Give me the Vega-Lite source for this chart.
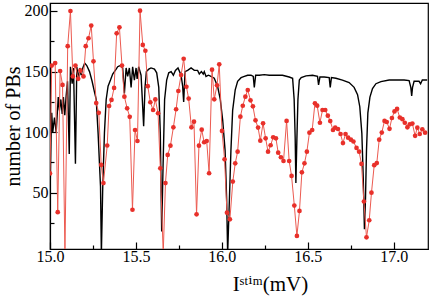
{
  "$schema": "https://vega.github.io/schema/vega-lite/v6.json",
  "width": 378,
  "height": 246,
  "autosize": "none",
  "padding": {"left": 50, "top": 3, "right": 3, "bottom": 47},
  "background": "white",
  "config": {
    "view": {"stroke": "black", "strokeWidth": 1.2},
    "axis": {
      "labelFont": "Liberation Serif",
      "titleFont": "Liberation Serif, DejaVu Serif",
      "labelColor": "black",
      "titleColor": "black",
      "labelFontSize": 16,
      "titleFontSize": 21,
      "titleFontWeight": "normal",
      "domainColor": "black",
      "domainWidth": 1.2,
      "tickColor": "black",
      "tickWidth": 1.2,
      "grid": false
    }
  },
  "datasets": {
    "black": [
      {"x":15.001,"y":55},{"x":15.006,"y":95},{"x":15.010,"y":116},{"x":15.016,"y":100},{"x":15.026,"y":112},{"x":15.036,"y":100},{"x":15.048,"y":129},{"x":15.055,"y":118},{"x":15.063,"y":127},{"x":15.071,"y":115},{"x":15.078,"y":129},{"x":15.086,"y":114},{"x":15.094,"y":130},{"x":15.102,"y":142},{"x":15.112,"y":82},{"x":15.119,"y":154},{"x":15.129,"y":140},{"x":15.137,"y":153},{"x":15.148,"y":74},{"x":15.156,"y":154},{"x":15.166,"y":143},{"x":15.173,"y":153},{"x":15.181,"y":147},{"x":15.191,"y":153},{"x":15.202,"y":157},{"x":15.214,"y":155},{"x":15.230,"y":150},{"x":15.245,"y":142},{"x":15.259,"y":133},{"x":15.269,"y":127},{"x":15.280,"y":99},{"x":15.294,"y":55},{"x":15.299,"y":0},{"x":15.307,"y":55},{"x":15.317,"y":100},{"x":15.327,"y":127},{"x":15.338,"y":138},{"x":15.352,"y":143},{"x":15.365,"y":148},{"x":15.375,"y":150},{"x":15.385,"y":152},{"x":15.394,"y":154},{"x":15.408,"y":155},{"x":15.423,"y":153},{"x":15.433,"y":132},{"x":15.443,"y":153},{"x":15.452,"y":146},{"x":15.462,"y":153},{"x":15.472,"y":137},{"x":15.481,"y":154},{"x":15.491,"y":143},{"x":15.501,"y":153},{"x":15.507,"y":144},{"x":15.516,"y":154},{"x":15.530,"y":147},{"x":15.538,"y":125},{"x":15.545,"y":105},{"x":15.553,"y":137},{"x":15.561,"y":150},{"x":15.575,"y":152},{"x":15.588,"y":153},{"x":15.608,"y":152},{"x":15.621,"y":149},{"x":15.633,"y":137},{"x":15.642,"y":99},{"x":15.650,"y":18},{"x":15.658,"y":72},{"x":15.667,"y":127},{"x":15.679,"y":143},{"x":15.691,"y":149},{"x":15.705,"y":150},{"x":15.718,"y":147},{"x":15.730,"y":151},{"x":15.745,"y":153},{"x":15.763,"y":147},{"x":15.772,"y":138},{"x":15.778,"y":125},{"x":15.786,"y":150},{"x":15.801,"y":151},{"x":15.821,"y":153},{"x":15.840,"y":151},{"x":15.859,"y":151},{"x":15.869,"y":148},{"x":15.881,"y":150},{"x":15.892,"y":148},{"x":15.898,"y":150},{"x":15.908,"y":146},{"x":15.922,"y":147},{"x":15.937,"y":146},{"x":15.956,"y":144.5},{"x":15.976,"y":137.5},{"x":15.991,"y":127},{"x":16.005,"y":110},{"x":16.019,"y":85},{"x":16.028,"y":45},{"x":16.034,"y":0},{"x":16.044,"y":44},{"x":16.053,"y":85},{"x":16.063,"y":118},{"x":16.078,"y":135},{"x":16.092,"y":142},{"x":16.112,"y":145},{"x":16.131,"y":146},{"x":16.150,"y":147},{"x":16.170,"y":147},{"x":16.183,"y":146},{"x":16.189,"y":137},{"x":16.197,"y":147},{"x":16.218,"y":147},{"x":16.247,"y":147.5},{"x":16.276,"y":147},{"x":16.315,"y":147},{"x":16.353,"y":147},{"x":16.392,"y":145.5},{"x":16.412,"y":144.5},{"x":16.421,"y":127},{"x":16.427,"y":95},{"x":16.431,"y":58},{"x":16.437,"y":95},{"x":16.443,"y":127},{"x":16.451,"y":143},{"x":16.462,"y":145},{"x":16.490,"y":146.5},{"x":16.528,"y":147},{"x":16.557,"y":146},{"x":16.563,"y":139},{"x":16.571,"y":145.5},{"x":16.596,"y":145.5},{"x":16.625,"y":145},{"x":16.631,"y":137},{"x":16.638,"y":145},{"x":16.664,"y":144.5},{"x":16.702,"y":143},{"x":16.741,"y":141},{"x":16.770,"y":137},{"x":16.790,"y":131},{"x":16.803,"y":121},{"x":16.815,"y":99},{"x":16.823,"y":63},{"x":16.830,"y":20},{"x":16.836,"y":44},{"x":16.842,"y":85},{"x":16.850,"y":116},{"x":16.862,"y":129},{"x":16.877,"y":136},{"x":16.897,"y":140},{"x":16.926,"y":141.7},{"x":16.974,"y":143},{"x":17.013,"y":143},{"x":17.061,"y":143},{"x":17.090,"y":142.5},{"x":17.100,"y":137},{"x":17.105,"y":130},{"x":17.110,"y":137},{"x":17.119,"y":142},{"x":17.148,"y":142},{"x":17.157,"y":140},{"x":17.167,"y":143},{"x":17.195,"y":143}
    ],
    "red": [
      {"x":15.000,"y":66},{"x":15.010,"y":155},{"x":15.030,"y":157},{"x":15.045,"y":34},{"x":15.059,"y":150.5},{"x":15.073,"y":139},{"x":15.087,"y":0},{"x":15.103,"y":171},{"x":15.119,"y":200},{"x":15.133,"y":146},{"x":15.148,"y":155},{"x":15.164,"y":144},{"x":15.177,"y":151},{"x":15.195,"y":146},{"x":15.208,"y":171},{"x":15.224,"y":177.5},{"x":15.240,"y":188},{"x":15.253,"y":158.5},{"x":15.269,"y":124},{"x":15.284,"y":116},{"x":15.298,"y":73},{"x":15.311,"y":58},{"x":15.333,"y":89},{"x":15.344,"y":121.6},{"x":15.358,"y":126.6},{"x":15.373,"y":136.5},{"x":15.388,"y":181.6},{"x":15.404,"y":186.5},{"x":15.419,"y":155},{"x":15.433,"y":129.3},{"x":15.449,"y":119.7},{"x":15.464,"y":112.7},{"x":15.480,"y":36},{"x":15.495,"y":101.8},{"x":15.509,"y":92.7},{"x":15.524,"y":200.3},{"x":15.540,"y":172},{"x":15.555,"y":167.2},{"x":15.569,"y":138},{"x":15.584,"y":124.7},{"x":15.600,"y":118.3},{"x":15.613,"y":127},{"x":15.629,"y":115.6},{"x":15.642,"y":70.2},{"x":15.659,"y":0},{"x":15.672,"y":58},{"x":15.685,"y":81.2},{"x":15.701,"y":88.9},{"x":15.718,"y":104},{"x":15.734,"y":118.9},{"x":15.747,"y":134},{"x":15.763,"y":147.2},{"x":15.778,"y":160.6},{"x":15.794,"y":137.5},{"x":15.807,"y":127.7},{"x":15.823,"y":104},{"x":15.838,"y":108.7},{"x":15.853,"y":32.2},{"x":15.867,"y":88.9},{"x":15.883,"y":102.1},{"x":15.897,"y":91.7},{"x":15.912,"y":92.7},{"x":15.926,"y":66.1},{"x":15.943,"y":151.6},{"x":15.956,"y":127.1},{"x":15.972,"y":138.7},{"x":15.985,"y":156},{"x":16.001,"y":101},{"x":16.016,"y":77.6},{"x":16.030,"y":33.6},{"x":16.047,"y":28.1},{"x":16.064,"y":59.2},{"x":16.078,"y":74.3},{"x":16.092,"y":83.9},{"x":16.108,"y":112.8},{"x":16.122,"y":121.8},{"x":16.137,"y":129.3},{"x":16.151,"y":134.8},{"x":16.167,"y":126.3},{"x":16.181,"y":121.3},{"x":16.196,"y":109.8},{"x":16.211,"y":103.8},{"x":16.224,"y":93},{"x":16.240,"y":107.3},{"x":16.255,"y":94.9},{"x":16.269,"y":83.9},{"x":16.284,"y":89.2},{"x":16.299,"y":95.8},{"x":16.315,"y":94.9},{"x":16.328,"y":83.1},{"x":16.344,"y":79.3},{"x":16.359,"y":76.2},{"x":16.377,"y":109.3},{"x":16.392,"y":76.2},{"x":16.406,"y":63.9},{"x":16.422,"y":39.4},{"x":16.437,"y":14.4},{"x":16.452,"y":35},{"x":16.466,"y":66.9},{"x":16.481,"y":74.3},{"x":16.495,"y":83.9},{"x":16.510,"y":99.6},{"x":16.526,"y":101.8},{"x":16.542,"y":123.8},{"x":16.555,"y":121.9},{"x":16.571,"y":107.8},{"x":16.586,"y":118.3},{"x":16.602,"y":118.3},{"x":16.617,"y":113.6},{"x":16.631,"y":109.2},{"x":16.647,"y":101.8},{"x":16.660,"y":103.7},{"x":16.676,"y":102.6},{"x":16.691,"y":98.5},{"x":16.705,"y":91},{"x":16.720,"y":98.5},{"x":16.735,"y":95.5},{"x":16.751,"y":93.8},{"x":16.766,"y":92.3},{"x":16.784,"y":87},{"x":16.799,"y":83.9},{"x":16.813,"y":73.8},{"x":16.827,"y":42.8},{"x":16.842,"y":13.2},{"x":16.858,"y":27.3},{"x":16.871,"y":50.1},{"x":16.887,"y":72.8},{"x":16.902,"y":74.5},{"x":16.916,"y":93.8},{"x":16.931,"y":99.7},{"x":16.947,"y":109.3},{"x":16.960,"y":108.4},{"x":16.976,"y":102.8},{"x":16.990,"y":111.7},{"x":17.005,"y":117.1},{"x":17.020,"y":119.2},{"x":17.036,"y":112.1},{"x":17.051,"y":110.7},{"x":17.065,"y":107.8},{"x":17.080,"y":104},{"x":17.094,"y":106.5},{"x":17.109,"y":107.1},{"x":17.125,"y":97},{"x":17.138,"y":103.7},{"x":17.152,"y":98.5},{"x":17.167,"y":102.4},{"x":17.183,"y":99.6}
    ]
  },
  "encoding": {
    "x": {
      "field": "x",
      "type": "quantitative",
      "scale": {"domain": [15, 17.2], "nice": false, "zero": false},
      "axis": {
        "title": "Iˢᵗⁱᵐ(mV)",
        "values": [15, 15.25, 15.5, 15.75, 16, 16.25, 16.5, 16.75, 17],
        "labelExpr": "datum.value % 0.5 == 0 ? format(datum.value, '.1f') : ''",
        "tickSize": {"condition": {"test": "datum.value % 0.5 != 0", "value": -4}, "value": -7},
        "labelPadding": 6,
        "titlePadding": 9,
        "titleX": 220,
        "labelFlush": false
      }
    },
    "y": {
      "field": "y",
      "type": "quantitative",
      "scale": {"domain": [3.6, 206.6], "nice": false, "zero": false},
      "axis": {
        "title": "number of PBs",
        "values": [25, 50, 75, 100, 125, 150, 175, 200],
        "labelExpr": "datum.value % 50 == 0 ? datum.label : ''",
        "tickSize": {"condition": {"test": "datum.value % 50 != 0", "value": -4}, "value": -7},
        "labelPadding": 9,
        "titlePadding": 1,
        "titleFontSize": 20
      }
    }
  },
  "layer": [
    {"data": {"name": "black"}, "mark": {"type": "line", "color": "black", "strokeWidth": 1.4, "clip": true}},
    {"data": {"name": "red"}, "mark": {"type": "line", "color": "#ec5a50", "strokeWidth": 1, "clip": true}},
    {"data": {"name": "red"}, "mark": {"type": "circle", "color": "#e8302a", "size": 22, "opacity": 1, "clip": true}}
  ]
}
